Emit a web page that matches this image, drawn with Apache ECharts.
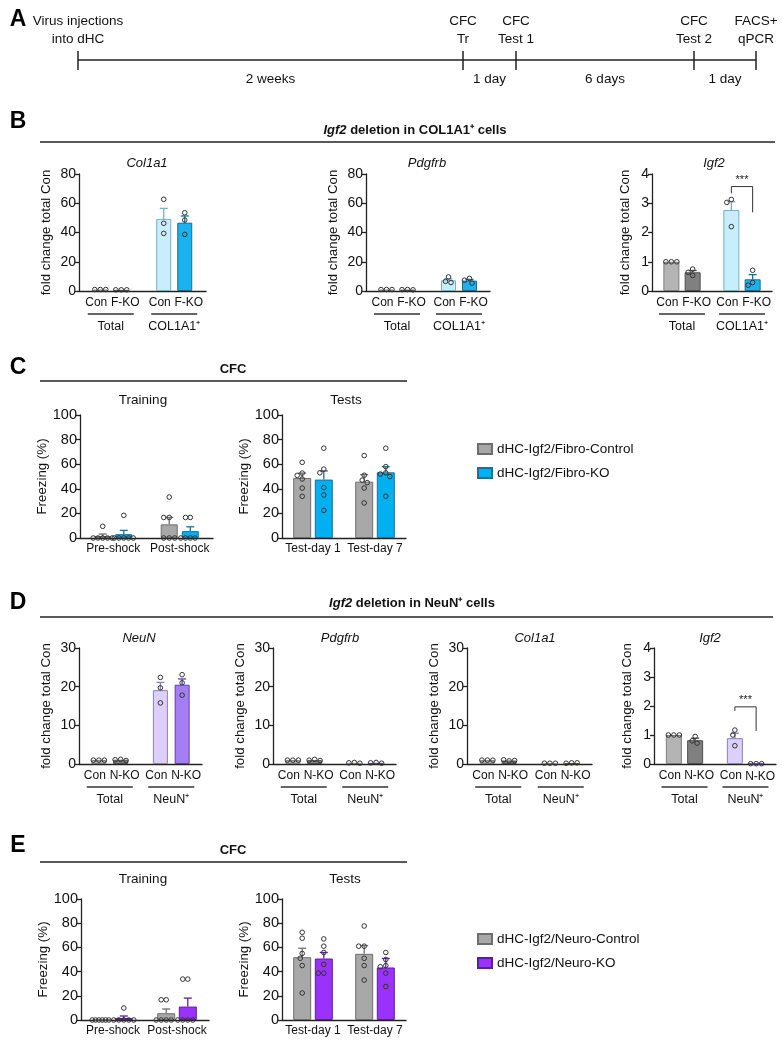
<!DOCTYPE html>
<html>
<head>
<meta charset="utf-8">
<script src="https://cdn.jsdelivr.net/npm/echarts@6/dist/echarts.min.js"></script>
<style>
html, body { margin: 0; padding: 0; background: #fff; }
#main { width: 782px; height: 1050px; }
</style>
</head>
<body>
<div id="main"></div>
<script>
// ---------- data ----------
var timelineEvents = ['Virus injections\ninto dHC', 'CFC\nTr', 'CFC\nTest 1', 'CFC\nTest 2', 'FACS+\nqPCR'];
var timelineGaps = ['2 weeks', '1 day', '6 days', '1 day'];

// B: Igf2 deletion in COL1A1+ cells
var bGroups = ['Total', 'COL1A1⁺'];
var bLabels = ['Con', 'F-KO'];
var bCol1a1Con = [1.0, 49.3], bCol1a1Ko = [0.8, 46.7];
var bCol1a1ConSem = [0, 7.2], bCol1a1KoSem = [0, 4.6];
var bCol1a1ConDots = [[1, 1, 1], [62.7, 46.3, 39.4]];
var bCol1a1KoDots = [[0.8, 0.8, 0.8], [53.5, 48.5, 38.7]];

var bPdgfrbCon = [1.0, 7.3], bPdgfrbKo = [0.9, 7.1];
var bPdgfrbConSem = [0, 1.0], bPdgfrbKoSem = [0.1, 0.8];
var bPdgfrbConDots = [[1, 1, 1], [9.6, 6.6, 5.8]];
var bPdgfrbKoDots = [[1.0, 0.9, 0.8], [8.6, 7.4, 5.4]];

var bIgf2Con = [1.0, 2.77], bIgf2Ko = [0.64, 0.40];
var bIgf2ConSem = [0, 0.28], bIgf2KoSem = [0.06, 0.16];
var bIgf2ConDots = [[1, 1, 1], [3.13, 3.03, 2.2]];
var bIgf2KoDots = [[0.75, 0.64, 0.53], [0.71, 0.29, 0.2]];
var bIgf2Sig = [3.57, 3.34, 2.69];   // bracket top, left end, right end

// C: CFC, fibro
var cNames = ['dHC-Igf2/Fibro-Control', 'dHC-Igf2/Fibro-KO'];
var cTrainGroups = ['Pre-shock', 'Post-shock'];
var cTrainCon = [1.6, 11.1], cTrainKo = [3.1, 5.6];
var cTrainConSem = [1.6, 5.6], cTrainKoSem = [3.1, 3.5];
var cTrainConDots = [[9.5, 0, 0, 0, 0, 0], [33.3, 16.7, 16.7, 0, 0, 0]];
var cTrainKoDots = [[18.4, 0, 0, 0, 0, 0], [16.7, 16.7, 0, 0, 0, 0]];
var cTestGroups = ['Test-day 1', 'Test-day 7'];
var cTestCon = [48.8, 45.8], cTestKo = [47.5, 53.4];
var cTestConSem = [4.0, 5.7], cTestKoSem = [7.0, 4.6];
var cTestConDots = [[61.5, 52.8, 50.9, 48, 40.6, 33.9], [67, 51, 47, 45, 40.6, 28.5]];
var cTestKoDots = [[73, 56, 53, 41, 35, 22.5], [73, 58, 53, 52, 50, 34]];

// D: Igf2 deletion in NeuN+ cells
var dGroups = ['Total', 'NeuN⁺'];
var dLabels = ['Con', 'N-KO'];
var dNeunCon = [1.0, 19.1], dNeunKo = [1.1, 20.5];
var dNeunConSem = [0, 2.0], dNeunKoSem = [0.1, 1.5];
var dNeunConDots = [[1, 1, 1], [22.4, 19.7, 15.8]];
var dNeunKoDots = [[1.2, 1.1, 0.9], [23.1, 21, 17.8]];

var dPdgfrbCon = [1.0, 0.3], dPdgfrbKo = [1.0, 0.3];
var dPdgfrbConSem = [0, 0.05], dPdgfrbKoSem = [0.08, 0.05];
var dPdgfrbConDots = [[1, 1, 1], [0.4, 0.3, 0.2]];
var dPdgfrbKoDots = [[1.2, 1.0, 0.9], [0.4, 0.3, 0.2]];

var dCol1a1Con = [1.0, 0.2], dCol1a1Ko = [0.9, 0.25];
var dCol1a1ConSem = [0, 0.03], dCol1a1KoSem = [0.08, 0.03];
var dCol1a1ConDots = [[1, 1, 1], [0.2, 0.2, 0.2]];
var dCol1a1KoDots = [[0.8, 1.1, 0.9], [0.3, 0.2, 0.3]];

var dIgf2Con = [1.0, 0.89], dIgf2Ko = [0.82, 0.01];
var dIgf2ConSem = [0, 0.17], dIgf2KoSem = [0.07, 0];
var dIgf2ConDots = [[1, 1, 1], [1.17, 1.0, 0.63]];
var dIgf2KoDots = [[0.95, 0.8, 0.72], [0.01, 0.01, 0.01]];
var dIgf2Sig = [1.97, 1.83, 1.14];

// E: CFC, neuro
var eNames = ['dHC-Igf2/Neuro-Control', 'dHC-Igf2/Neuro-KO'];
var eTrainCon = [0, 5.6], eTrainKo = [1.65, 11.1];
var eTrainConSem = [0, 3.5], eTrainKoSem = [1.65, 7.0];
var eTrainConDots = [[0, 0, 0, 0, 0, 0], [16.7, 16.7, 0, 0, 0, 0]];
var eTrainKoDots = [[9.9, 0, 0, 0, 0, 0], [33.8, 33.8, 0, 0, 0, 0]];
var eTestCon = [51.9, 54.7], eTestKo = [50.8, 43.4];
var eTestConSem = [7.4, 6.8], eTestKoSem = [5.0, 7.4];
var eTestConDots = [[72.5, 67.6, 55, 51, 45, 22.3], [77.7, 61, 61, 51, 45, 33]];
var eTestKoDots = [[67, 61, 55.8, 46, 38.7, 38.7], [55.8, 50, 45, 44, 38.7, 27.7]];

// ---------- style ----------
var FONT = "'Liberation Sans', Arial, Helvetica, sans-serif";
var AX = '#222';
var TXT = '#111';
var FOLD = 'fold change total Con';
var FREEZE = 'Freezing (%)';

var GRAY1 = '#b4b4b4', GRAY1B = '#7c7c7c';
var GRAY2 = '#808080', GRAY2B = '#4e4e4e';
var LBLUE = '#c8eefc', LBLUEB = '#7aaec4';
var BLUE = '#1ab2ef', BLUEB = '#1b6b8f';
var CGRAY = '#a8a8a8', CGRAYB = '#6e6e6e';
var CBLUE = '#00b0f0', CBLUEB = '#1f6f99';
var LPURP = '#dccffa', LPURPB = '#8c80b5';
var PURP = '#a47ff4', PURPB = '#5d40a8';
var EPURP = '#9a32fb', EPURPB = '#5c1f9a';

var bFill = [[GRAY1, LBLUE], [GRAY2, BLUE]], bBorder = [[GRAY1B, LBLUEB], [GRAY2B, BLUEB]];
var dFill = [[GRAY1, LPURP], [GRAY2, PURP]], dBorder = [[GRAY1B, LPURPB], [GRAY2B, PURPB]];
var cFill = [[CGRAY, CGRAY], [CBLUE, CBLUE]], cBorder = [[CGRAYB, CGRAYB], [CBLUEB, CBLUEB]];
var eFill = [[CGRAY, CGRAY], [EPURP, EPURP]], eBorder = [[CGRAYB, CGRAYB], [EPURPB, EPURPB]];

var charts = [
    {left: 79, top: 174, width: 127, height: 117, max: 80, interval: 20, nameGap: 26, bw: 15, gap: 0.4,
     title: 'Col1a1', tx: 147, ty: 163, groups: bGroups, labels: bLabels, names: bLabels, yName: FOLD,
     mean: [bCol1a1Con, bCol1a1Ko], sem: [bCol1a1ConSem, bCol1a1KoSem], dots: [bCol1a1ConDots, bCol1a1KoDots],
     fill: bFill, border: bBorder},
    {left: 366, top: 174, width: 124, height: 117, max: 80, interval: 20, nameGap: 26, bw: 15, gap: 0.4,
     title: 'Pdgfrb', tx: 427, ty: 163, groups: bGroups, labels: bLabels, names: bLabels, yName: FOLD,
     mean: [bPdgfrbCon, bPdgfrbKo], sem: [bPdgfrbConSem, bPdgfrbKoSem], dots: [bPdgfrbConDots, bPdgfrbKoDots],
     fill: bFill, border: bBorder},
    {left: 652, top: 174, width: 120, height: 117, max: 4, interval: 1, nameGap: 20, bw: 16, gap: 0.33,
     title: 'Igf2', tx: 714, ty: 163, groups: bGroups, labels: bLabels, names: bLabels, yName: FOLD,
     mean: [bIgf2Con, bIgf2Ko], sem: [bIgf2ConSem, bIgf2KoSem], dots: [bIgf2ConDots, bIgf2KoDots],
     fill: bFill, border: bBorder, sig: bIgf2Sig},

    {left: 80, top: 415, width: 133, height: 123, max: 100, interval: 20, nameGap: 31, bw: 17, gap: 0.24,
     groups: cTrainGroups, names: cNames, yName: FREEZE,
     mean: [cTrainCon, cTrainKo], sem: [cTrainConSem, cTrainKoSem], dots: [cTrainConDots, cTrainKoDots],
     fill: cFill, border: cBorder},
    {left: 282, top: 415, width: 124, height: 123, max: 100, interval: 20, nameGap: 31, bw: 18, gap: 0.2,
     groups: cTestGroups, names: cNames, yName: FREEZE,
     mean: [cTestCon, cTestKo], sem: [cTestConSem, cTestKoSem], dots: [cTestConDots, cTestKoDots],
     fill: cFill, border: cBorder},

    {left: 79, top: 648, width: 123, height: 116, max: 30, interval: 10, nameGap: 26, bw: 15, gap: 0.45,
     title: 'NeuN', tx: 139, ty: 638, groups: dGroups, labels: dLabels, names: dLabels, yName: FOLD,
     mean: [dNeunCon, dNeunKo], sem: [dNeunConSem, dNeunKoSem], dots: [dNeunConDots, dNeunKoDots],
     fill: dFill, border: dBorder},
    {left: 273, top: 648, width: 123, height: 116, max: 30, interval: 10, nameGap: 26, bw: 15, gap: 0.45,
     title: 'Pdgfrb', tx: 340, ty: 638, groups: dGroups, labels: dLabels, names: dLabels, yName: FOLD,
     mean: [dPdgfrbCon, dPdgfrbKo], sem: [dPdgfrbConSem, dPdgfrbKoSem], dots: [dPdgfrbConDots, dPdgfrbKoDots],
     fill: dFill, border: dBorder},
    {left: 467, top: 648, width: 125, height: 116, max: 30, interval: 10, nameGap: 26, bw: 15, gap: 0.45,
     title: 'Col1a1', tx: 535, ty: 638, groups: dGroups, labels: dLabels, names: dLabels, yName: FOLD,
     mean: [dCol1a1Con, dCol1a1Ko], sem: [dCol1a1ConSem, dCol1a1KoSem], dots: [dCol1a1ConDots, dCol1a1KoDots],
     fill: dFill, border: dBorder},
    {left: 654, top: 648, width: 122, height: 116, max: 4, interval: 1, nameGap: 20, bw: 16, gap: 0.33,
     title: 'Igf2', tx: 710, ty: 638, groups: dGroups, labels: dLabels, names: dLabels, yName: FOLD,
     mean: [dIgf2Con, dIgf2Ko], sem: [dIgf2ConSem, dIgf2KoSem], dots: [dIgf2ConDots, dIgf2KoDots],
     fill: dFill, border: dBorder, sig: dIgf2Sig},

    {left: 81, top: 899, width: 128, height: 121, max: 100, interval: 20, nameGap: 31, bw: 18, gap: 0.2,
     groups: cTrainGroups, names: eNames, yName: FREEZE,
     mean: [eTrainCon, eTrainKo], sem: [eTrainConSem, eTrainKoSem], dots: [eTrainConDots, eTrainKoDots],
     fill: eFill, border: eBorder},
    {left: 282, top: 899, width: 124, height: 121, max: 100, interval: 20, nameGap: 31, bw: 18, gap: 0.2,
     groups: cTestGroups, names: eNames, yName: FREEZE,
     mean: [eTestCon, eTestKo], sem: [eTestConSem, eTestKoSem], dots: [eTestConDots, eTestKoDots],
     fill: eFill, border: eBorder}
];

// ---------- helpers ----------
// simple beeswarm: push overlapping dots sideways
function swarm(values, toY, d, limit) {
    var placed = [];
    values.forEach(function (v) {
        var y = toY(v), dx = 0;
        for (var k = 0; k < 400; k++) {
            dx = (k % 2 ? -1 : 1) * Math.ceil(k / 2) * 0.5;
            var ok = placed.every(function (p) {
                return (p.x - dx) * (p.x - dx) + (p.y - y) * (p.y - y) >= d * d;
            });
            if (ok) break;
        }
        placed.push({x: dx, y: y});
    });
    var m = 0;
    placed.forEach(function (p) { m = Math.max(m, Math.abs(p.x)); });
    if (m > limit) placed.forEach(function (p) { p.x = p.x * limit / m; });
    return placed;
}

function renderer(c) {
    return function (params, api) {
        var g = api.value(0), s = api.value(1);
        var base = api.coord([g, 0]);
        var off = c.bw * (1 + c.gap) / 2;
        var cx = base[0] + (s ? off : -off);
        var mean = c.mean[s][g], sem = c.sem[s][g], pts = c.dots[s][g];
        var col = c.border[s][g];
        var kids = [];
        if (sem > 0) {
            var y0 = api.coord([g, mean])[1], y1 = api.coord([g, mean + sem])[1];
            if (y0 - y1 > 0.6) {
                kids.push({type: 'line', shape: {x1: cx, y1: y0, x2: cx, y2: y1}, style: {stroke: col, lineWidth: 1.3}});
                kids.push({type: 'line', shape: {x1: cx - 4, y1: y1, x2: cx + 4, y2: y1}, style: {stroke: col, lineWidth: 1.3}});
            }
        }
        swarm(pts, function (v) { return api.coord([g, v])[1]; }, 5.2, c.bw / 2 + 1).forEach(function (p) {
            kids.push({type: 'circle', shape: {cx: cx + p.x, cy: p.y, r: 2.3},
                       style: {fill: 'none', stroke: '#333', lineWidth: 1}});
        });
        if (c.sig && g === 1 && s === 1) {
            var x1 = base[0] - off, x2 = base[0] + off;
            var yt = api.coord([g, c.sig[0]])[1];
            var yl = api.coord([g, c.sig[1]])[1];
            var yr = api.coord([g, c.sig[2]])[1];
            kids.push({type: 'polyline', shape: {points: [[x1, yl], [x1, yt], [x2, yt], [x2, yr]]},
                       style: {stroke: '#333', lineWidth: 1, fill: null}});
            kids.push({type: 'text', style: {text: '***', x: (x1 + x2) / 2, y: yt - 1, align: 'center',
                       verticalAlign: 'bottom', fontSize: 11, fontFamily: FONT, fill: '#222'}});
        }
        return {type: 'group', children: kids};
    };
}

var grid = [], xAxis = [], yAxis = [], series = [], graphic = [];

charts.forEach(function (c, gi) {
    grid.push({left: c.left, top: c.top, width: c.width, height: c.height, containLabel: false});
    var xLabel = c.labels ? {
        interval: 0, margin: 18, color: TXT,
        formatter: function (v) { return '{ul| }\n{g|' + v + '}'; },
        rich: {
            ul: {width: 46, height: 1.3, lineHeight: 10, backgroundColor: '#333', fontSize: 1},
            g: {fontSize: 12.5, lineHeight: 16, color: TXT, fontFamily: FONT}
        }
    } : {interval: 0, margin: 5, fontSize: 12, color: TXT, fontFamily: FONT};
    xAxis.push({
        type: 'category', gridIndex: gi, data: c.groups,
        axisLine: {lineStyle: {color: AX, width: 1.3}},
        axisTick: {alignWithLabel: true, length: 4, lineStyle: {color: AX, width: 1.3}},
        axisLabel: xLabel
    });
    yAxis.push({
        type: 'value', gridIndex: gi, min: 0, max: c.max, interval: c.interval,
        name: c.yName, nameLocation: 'middle', nameGap: c.nameGap,
        nameTextStyle: {fontSize: 13.3, color: TXT, fontFamily: FONT},
        axisLine: {show: true, lineStyle: {color: AX, width: 1.3}},
        axisTick: {show: true, length: 4, lineStyle: {color: AX, width: 1.3}},
        splitLine: {show: false},
        axisLabel: {fontSize: c.max === 100 ? 14.5 : 14, color: TXT, margin: 3, fontFamily: FONT}
    });
    [0, 1].forEach(function (s) {
        series.push({
            type: 'bar', name: c.names[s], xAxisIndex: gi, yAxisIndex: gi,
            barWidth: c.bw, barGap: (c.gap * 100) + '%', silent: true,
            itemStyle: {color: c.fill[s][0], borderColor: c.border[s][0], borderWidth: 1},
            data: c.mean[s].map(function (v, g) {
                return {value: v, itemStyle: {color: c.fill[s][g], borderColor: c.border[s][g], borderWidth: 1}};
            }),
            label: c.labels ? {show: true, position: 'bottom', distance: 6, formatter: c.labels[s],
                               offset: [s ? 4 : -4, 0],
                               fontSize: 12, color: TXT, fontFamily: FONT} : {show: false},
            z: 2
        });
    });
    series.push({
        type: 'custom', xAxisIndex: gi, yAxisIndex: gi, silent: true, clip: false, z: 4,
        data: [[0, 0], [0, 1], [1, 0], [1, 1]],
        encode: {x: 0, y: 1},
        renderItem: renderer(c)
    });
    if (c.title) {
        graphic.push({type: 'text', x: c.tx, y: c.ty, style: {text: c.title, align: 'center', verticalAlign: 'middle',
                      fontSize: 13, fontStyle: 'italic', fontFamily: FONT, fill: TXT}});
    }
});

// panel letters
[['A', 20], ['B', 122], ['C', 368], ['D', 603], ['E', 846]].forEach(function (l) {
    graphic.push({type: 'text', x: 18, y: l[1], style: {text: l[0], align: 'center', verticalAlign: 'middle',
                  fontSize: 23, fontWeight: 'bold', fontFamily: FONT, fill: '#000'}});
});

// timeline (A)
var tickX = [78, 463, 516, 694, 756];
graphic.push({type: 'line', shape: {x1: tickX[0], y1: 60, x2: tickX[4], y2: 60}, style: {stroke: AX, lineWidth: 1.5}});
tickX.forEach(function (x, i) {
    graphic.push({type: 'line', shape: {x1: x, y1: 51, x2: x, y2: 70}, style: {stroke: AX, lineWidth: 1.5}});
    graphic.push({type: 'text', x: x, y: 30, style: {text: timelineEvents[i], align: 'center', verticalAlign: 'middle',
                  fontSize: 13.5, lineHeight: 18, fontFamily: FONT, fill: TXT}});
    if (i < timelineGaps.length) {
        graphic.push({type: 'text', x: (x + tickX[i + 1]) / 2, y: 79, style: {text: timelineGaps[i], align: 'center',
                      verticalAlign: 'middle', fontSize: 13.5, fontFamily: FONT, fill: TXT}});
    }
});

// section headings with rules
function heading(rich, cx, cy, ly, x1, x2) {
    graphic.push({type: 'text', x: cx, y: cy, style: {text: rich, align: 'center', verticalAlign: 'middle',
        rich: {i: {fontStyle: 'italic', fontWeight: 'bold', fontSize: 13, fontFamily: FONT, fill: TXT},
               b: {fontWeight: 'bold', fontSize: 13, fontFamily: FONT, fill: TXT}}}});
    graphic.push({type: 'line', shape: {x1: x1, y1: ly, x2: x2, y2: ly}, style: {stroke: AX, lineWidth: 1.5}});
}
heading('{i|Igf2}{b| deletion in COL1A1⁺ cells}', 415, 130, 142, 40, 775);
heading('{b|CFC}', 233, 369, 381, 40, 407);
heading('{i|Igf2}{b| deletion in NeuN⁺ cells}', 412, 603, 617, 40, 773);
heading('{b|CFC}', 233, 850, 862, 40, 407);

[['Training', 143, 400], ['Tests', 346, 400], ['Training', 143, 879], ['Tests', 345, 879]].forEach(function (t) {
    graphic.push({type: 'text', x: t[1], y: t[2], style: {text: t[0], align: 'center', verticalAlign: 'middle',
                  fontSize: 13.5, fontFamily: FONT, fill: TXT}});
});

function legendAt(names, top) {
    return {data: names, orient: 'vertical', left: 477, top: top, itemWidth: 14, itemHeight: 10, itemGap: 10,
            icon: 'rect', selectedMode: false, padding: 0,
            textStyle: {fontSize: 13.5, color: TXT, fontFamily: FONT}};
}

var myChart = echarts.init(document.getElementById('main'));
myChart.setOption({
    animation: false,
    textStyle: {fontFamily: FONT},
    grid: grid,
    xAxis: xAxis,
    yAxis: yAxis,
    legend: [legendAt(cNames, 442), legendAt(eNames, 932)],
    graphic: graphic,
    series: series
});
</script>
</body>
</html>
